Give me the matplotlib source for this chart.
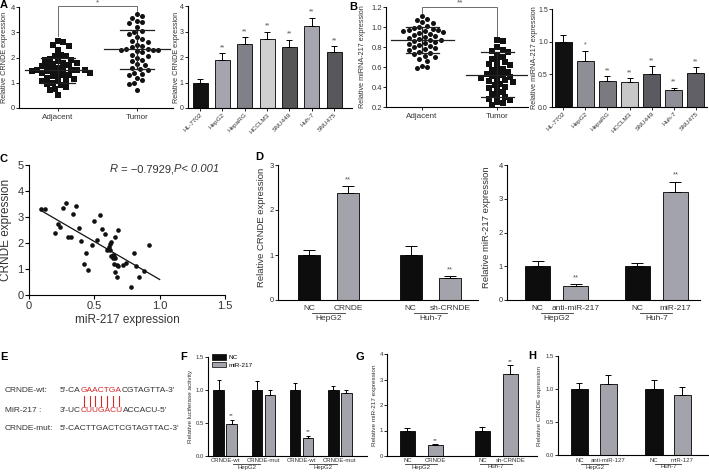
import numpy as np
import matplotlib
matplotlib.use('Agg')
import matplotlib.pyplot as plt
from matplotlib import transforms
from matplotlib.patches import Patch
from matplotlib.lines import Line2D

plt.rcParams['font.family'] = ['Liberation Sans', 'DejaVu Sans']
plt.rcParams['axes.linewidth'] = 0.8

W, H = 709, 472

# ---------------- data ----------------
# A: CRNDE in tissue
a_adjacent = [2.65, 2.6, 2.5, 2.45, 2.3, 2.1, 2.05, 2.05, 1.95, 1.9, 1.9, 1.85, 1.8, 1.8,
              1.75, 1.7, 1.7, 1.65, 1.6, 1.55, 1.5, 1.5, 1.5, 1.5, 1.5, 1.45, 1.45, 1.4,
              1.4, 1.35, 1.3, 1.3, 1.25, 1.2, 1.15, 1.1, 1.1, 1.05, 1.0, 0.95, 0.9, 0.85,
              0.75, 0.7, 0.5]
a_tumor = [3.72, 3.65, 3.55, 3.45, 3.4, 3.35, 3.2, 3.05, 3.0, 2.95, 2.8, 2.75, 2.65, 2.6,
           2.5, 2.45, 2.4, 2.35, 2.35, 2.3, 2.3, 2.3, 2.25, 2.2, 2.1, 2.05, 2.0, 1.9,
           1.85, 1.75, 1.7, 1.6, 1.55, 1.5, 1.4, 1.35, 1.3, 1.2, 1.1, 1.0, 0.95, 0.7]
a_means = [1.5, 2.33]
a_sd_low = [1.0, 1.55]
a_sd_high = [2.0, 3.1]

cell_lines = ['HL-7702', 'HepG2', 'HepaRG', 'HCCLM3', 'SNU449', 'Huh-7', 'SNU475']
a_cell_vals = [1.0, 1.9, 2.5, 2.7, 2.4, 3.2, 2.2]
a_cell_err = [0.13, 0.24, 0.28, 0.29, 0.28, 0.34, 0.23]
a_cell_sig = ['', '**', '**', '**', '**', '**', '**']

# B: miR-217 in tissue
b_adjacent = [1.11, 1.08, 1.07, 1.05, 1.04, 1.01, 1.0, 0.99, 0.98, 0.97, 0.97, 0.96, 0.96,
              0.95, 0.94, 0.93, 0.92, 0.91, 0.9, 0.89, 0.88, 0.87, 0.87, 0.86, 0.85, 0.84,
              0.83, 0.82, 0.81, 0.8, 0.79, 0.78, 0.77, 0.75, 0.74, 0.73, 0.71, 0.7, 0.68,
              0.66, 0.61, 0.6, 0.59]
b_tumor = [0.87, 0.86, 0.8, 0.77, 0.76, 0.75, 0.72, 0.7, 0.68, 0.66, 0.65, 0.63, 0.62, 0.6,
           0.58, 0.57, 0.55, 0.54, 0.53, 0.52, 0.51, 0.5, 0.49, 0.48, 0.47, 0.46, 0.45,
           0.43, 0.42, 0.4, 0.39, 0.37, 0.35, 0.33, 0.31, 0.3, 0.28, 0.27, 0.25, 0.24, 0.22]
b_means = [0.87, 0.52]
b_sd_low = [0.74, 0.3]
b_sd_high = [1.0, 0.75]

b_cell_vals = [1.0, 0.7, 0.4, 0.385, 0.51, 0.26, 0.52]
b_cell_err = [0.1, 0.16, 0.07, 0.055, 0.11, 0.035, 0.09]
b_cell_sig = ['', '*', '**', '**', '**', '**', '**']

# C: correlation
c_mir = [0.095, 0.12, 0.2, 0.22, 0.235, 0.26, 0.28, 0.30, 0.32, 0.34, 0.36, 0.38, 0.40,
         0.42, 0.44, 0.455, 0.48, 0.50, 0.52, 0.54, 0.56, 0.58, 0.60, 0.61, 0.62, 0.63,
         0.64, 0.644, 0.65, 0.657, 0.66, 0.67, 0.66, 0.68, 0.675, 0.68, 0.72, 0.74, 0.78,
         0.80, 0.82, 0.845, 0.88, 0.92, 0.62, 0.63, 0.65]
c_crnde = [3.31, 3.29, 2.37, 2.73, 2.63, 3.36, 3.55, 2.22, 2.22, 3.1, 3.42, 2.56, 2.06,
           1.2, 1.6, 0.96, 1.92, 2.86, 2.12, 3.06, 2.54, 2.33, 1.73, 1.86, 1.96, 2.05,
           1.54, 1.41, 1.19, 0.9, 1.44, 1.15, 2.22, 2.5, 0.7, 1.12, 1.15, 1.24, 0.32,
           1.6, 1.12, 0.7, 0.92, 1.92, 1.73, 1.5, 1.5]
c_fit_range = [0.1, 1.0]

# D
d1_labels = ['NC', 'CRNDE', 'NC', 'sh-CRNDE']
d1_vals = [1.0, 2.37, 1.0, 0.48]
d1_err = [0.11, 0.17, 0.2, 0.06]
d1_sig = ['', '**', '', '**']
d2_labels = ['NC', 'anti-miR-217', 'NC', 'miR-217']
d2_vals = [1.0, 0.41, 1.0, 3.21]
d2_err = [0.15, 0.06, 0.1, 0.3]
d2_sig = ['', '**', '', '**']
d_groups = ['HepG2', 'Huh-7']

# F: luciferase
f_constructs = ['CRNDE-wt', 'CRNDE-mut', 'CRNDE-wt', 'CRNDE-mut']
f_nc = [1.0, 1.0, 1.0, 1.0]
f_nc_err = [0.15, 0.13, 0.1, 0.06]
f_mir = [0.48, 0.92, 0.28, 0.96]
f_mir_err = [0.07, 0.08, 0.03, 0.04]
f_sig = ['**', '', '**', '']
f_groups = ['HepG2', 'HepG2']

# G
g_labels = ['NC', 'CRNDE', 'NC', 'sh-CRNDE']
g_vals = [1.0, 0.43, 1.0, 3.2]
g_err = [0.1, 0.04, 0.15, 0.37]
g_sig = ['', '**', '', '**']

# H
h_labels = ['NC', 'anti-miR-127', 'NC', 'miR-127']
h_vals = [1.0, 1.08, 1.0, 0.91]
h_err = [0.09, 0.13, 0.13, 0.12]

BLACK = '#0d0d0d'
GRAY = '#a3a3ab'
a_colors = ['#111111', '#a5a5b0', '#808088', '#cfcfcf', '#555558', '#a5a5b0', '#58585c']
b_colors = ['#111111', '#8e8e96', '#7a7a80', '#c8c8c8', '#5a5a60', '#8e8e96', '#606066']

fig = plt.figure(figsize=(W / 100, H / 100), dpi=100)
fig.patch.set_facecolor('white')


def box(l, t, r, b, fs):
    ax = fig.add_axes([l / W, 1 - b / H, (r - l) / W, (b - t) / H])
    ax.spines['top'].set_visible(False)
    ax.spines['right'].set_visible(False)
    ax.tick_params(direction='out', length=2, width=0.6, pad=1, labelsize=fs,
                   labelcolor='#333333')
    return ax


def ftext(x, y, s, **kw):
    return fig.text(x / W, 1 - y / H, s, **kw)


def letter(x, y, s):
    ftext(x, y, s, size=8, weight='bold', ha='left', va='top')


def ylab(x, t, b, s, size):
    ftext(x, (t + b) / 2, s, rotation=90, ha='center', va='center', size=size, color='#333333')


def swarm(vals, ypx, dpx):
    placed = []
    offs = np.zeros(len(vals))
    cands = [0.0] + [s * j * dpx * 0.5 for j in range(1, 60) for s in (1, -1)]
    for i in np.argsort(vals)[::-1]:
        y = vals[i] * ypx
        for c in cands:
            if all((c - px) ** 2 + (y - py) ** 2 >= dpx ** 2 for px, py in placed):
                break
        placed.append((c, y))
        offs[i] = c
    return offs


def bars(ax, x, vals, errs, colors, width, cap):
    ax.bar(x, vals, width, color=colors, edgecolor='black', linewidth=0.6, zorder=2)
    ax.errorbar(x, vals, yerr=[np.zeros(len(errs)), errs], fmt='none', ecolor='black',
                elinewidth=0.7, capsize=cap, capthick=0.7, zorder=3)


def stars(ax, x, vals, errs, marks, size, dy=1.5):
    for xi, v, e, m in zip(x, vals, errs, marks):
        if m:
            ax.annotate(m, (xi, v + e), xytext=(0, dy), textcoords='offset points',
                        ha='center', va='bottom', size=size, color='#555555')


def under_labels(ax, x, labels, y_lab, size):
    tr = transforms.blended_transform_factory(ax.transData, fig.transFigure)
    for xi, s in zip(x, labels):
        ax.text(xi, 1 - y_lab / H, s, transform=tr, ha='center', va='center', size=size,
                color='#333333', clip_on=False)


def group_line(ax, x0, x1, y_line, label, y_lab, size):
    tr = transforms.blended_transform_factory(ax.transData, fig.transFigure)
    ax.plot([x0, x1], [1 - y_line / H] * 2, transform=tr, color='#333333', lw=0.6,
            clip_on=False)
    ax.text((x0 + x1) / 2, 1 - y_lab / H, label, transform=tr, ha='center', va='center',
            size=size, color='#333333', clip_on=False)


def rich(x, y, parts, size):
    r = fig.canvas.get_renderer()
    out = []
    for s, c, st in parts:
        t = ftext(x, y, s, color=c, style=st, size=size, ha='left', va='center')
        bb = t.get_window_extent(r)
        out.append(bb)
        x += bb.width
    return out


def dot_panel(ax, groups, means, lo, hi, markers, xscale, yscale, y0):
    for k, (vals, mk) in enumerate(zip(groups, markers)):
        v = np.array(vals)
        offs = swarm(v - y0, yscale, 5.3)
        ax.scatter(k + 1 + offs / xscale, v, s=13, marker=mk, color='#111111',
                   linewidths=0, zorder=3, clip_on=False)
        ax.plot([k + 1 - 0.42, k + 1 + 0.42], [means[k]] * 2, color='#222222', lw=0.9, zorder=4)
        ax.plot([k + 1 - 0.22, k + 1 + 0.22], [lo[k]] * 2, color='#222222', lw=0.9, zorder=4)
        ax.plot([k + 1 - 0.22, k + 1 + 0.22], [hi[k]] * 2, color='#222222', lw=0.9, zorder=4)
        ax.plot([k + 1, k + 1], [lo[k], hi[k]], color='#222222', lw=0.9, zorder=4)


# ---------------- A ----------------
letter(0, 0, 'A')
ax = box(19, 7, 173, 108, 5.5)
dot_panel(ax, [a_adjacent, a_tumor], a_means, a_sd_low, a_sd_high, ['s', 'o'], 79, 25.25, 0)
ax.set_xlim(0.506, 2.456)
ax.set_ylim(0, 4)
ax.set_yticks([0, 1, 2, 3, 4])
ax.set_xticks([1, 2])
ax.set_xticklabels(['Adjacent', 'Tumor'], size=5.8)
ax.tick_params(axis='x', pad=2.5)
ax.plot([1, 1, 2, 2], [2.85, 4.03, 4.03, 3.85], color='#555555', lw=0.6, clip_on=False)
ax.text(1.5, 4.03, '*', ha='center', va='bottom', size=6, color='#555555')
ylab(5, 7, 108, 'Relative CRNDE expression', 5.2)

ax = box(188, 6, 352, 108, 5)
xa = np.arange(len(cell_lines))
bars(ax, xa, a_cell_vals, a_cell_err, a_colors, 0.67, 2)
stars(ax, xa, a_cell_vals, a_cell_err, a_cell_sig, 5)
ax.set_xlim(-0.54, 6.8)
ax.set_ylim(0, 4)
ax.set_yticks([0, 1, 2, 3, 4])
ax.set_xticks(xa)
ax.set_xticklabels(cell_lines, rotation=45, ha='right', size=4.6, rotation_mode='anchor')
ylab(176, 6, 108, 'Relative CRNDE expression', 5.2)

# ---------------- B ----------------
letter(349, 2, 'B')
ax = box(386, 7, 528, 107, 5.5)
dot_panel(ax, [b_adjacent, b_tumor], b_means, b_sd_low, b_sd_high, ['o', 's'], 75, 100, 0.2)
ax.set_xlim(0.52, 2.41)
ax.set_ylim(0.2, 1.2)
ax.set_yticks([0.2, 0.4, 0.6, 0.8, 1.0, 1.2])
ax.set_yticklabels(['0.2', '0.4', '0.6', '0.8', '1.0', '1.2'])
ax.set_xticks([1, 2])
ax.set_xticklabels(['Adjacent', 'Tumor'], size=5.8)
ax.tick_params(axis='x', pad=2.5)
ax.plot([1, 1, 2, 2], [1.14, 1.205, 1.205, 0.9], color='#555555', lw=0.6, clip_on=False)
ax.text(1.5, 1.205, '**', ha='center', va='bottom', size=6, color='#555555')
ylab(362, 7, 107, 'Relative miRNA-217 expression', 5.2)

ax = box(552, 9, 707, 107, 5)
bars(ax, xa, b_cell_vals, b_cell_err, b_colors, 0.77, 2)
stars(ax, xa, b_cell_vals, b_cell_err, b_cell_sig, 5)
ax.set_xlim(-0.5, 6.5)
ax.set_ylim(0, 1.5)
ax.set_yticks([0, 0.5, 1.0, 1.5])
ax.set_yticklabels(['0.0', '0.5', '1.0', '1.5'])
ax.set_xticks(xa)
ax.set_xticklabels(cell_lines, rotation=45, ha='right', size=4.6, rotation_mode='anchor')
ylab(534, 9, 107, 'Relative miRNA-217 expression', 5.2)

# ---------------- C ----------------
letter(0, 154, 'C')
ax = box(29, 165, 225, 295, 8)
ax.tick_params(length=3, width=0.8)
ax.scatter(c_mir, c_crnde, s=11, color='#111111', linewidths=0, zorder=3)
k, b0 = np.polyfit(c_mir, c_crnde, 1)
xf = np.array(c_fit_range)
ax.plot(xf, k * xf + b0, color='#111111', lw=0.9)
ax.set_xlim(0, 1.5)
ax.set_ylim(0, 5)
ax.set_xticks([0, 0.5, 1.0, 1.5])
ax.set_xticklabels(['0', '0.5', '1.0', '1.5'])
ax.set_yticks([0, 1, 2, 3, 4, 5])
ylab(6, 165, 295, 'CRNDE expression', 8.5)
ftext(127, 320, 'miR-217 expression', ha='center', va='center', size=8.5, color='#333333')
rich(110, 169, [('R', '#333333', 'italic'), (' = \u22120.7929,', '#333333', 'normal'),
                ('P< 0.001', '#333333', 'italic')], 8)

# ---------------- D ----------------
letter(255, 152, 'D')
xd = np.array([0, 1, 2.6, 3.6])
ax = box(278, 165, 478, 300, 5.5)
bars(ax, xd, d1_vals, d1_err, [BLACK, GRAY, BLACK, GRAY], 0.56, 4)
stars(ax, xd, d1_vals, d1_err, d1_sig, 5.5, 2)
ax.set_xlim(-0.79, 4.32)
ax.set_ylim(0, 3)
ax.set_yticks([0, 1, 2, 3])
ax.set_xticks([])
under_labels(ax, xd, d1_labels, 308.5, 6)
group_line(ax, 0.08, 0.92, 313, d_groups[0], 318, 6)
group_line(ax, 2.68, 3.52, 313, d_groups[1], 318, 6)
ylab(261, 165, 290, 'Relative CRNDE expression', 6.8)

ax = box(507, 165, 700, 300, 5.5)
bars(ax, xd, d2_vals, d2_err, [BLACK, GRAY, BLACK, GRAY], 0.65, 4)
stars(ax, xd, d2_vals, d2_err, d2_sig, 5.5, 2)
ax.set_xlim(-0.8, 4.24)
ax.set_ylim(0, 4)
ax.set_yticks([0, 1, 2, 3, 4])
ax.set_xticks([])
under_labels(ax, xd, d2_labels, 308.5, 6)
group_line(ax, 0.08, 0.92, 313, d_groups[0], 318, 6)
group_line(ax, 2.68, 3.52, 313, d_groups[1], 318, 6)
ylab(486, 165, 290, 'Relative miR-217 expression', 6.8)

# ---------------- E ----------------
letter(0, 352, 'E')
red = '#d42a2a'
ink = '#333333'
ftext(5, 391, 'CRNDE-wt:', size=6, ha='left', va='center', color=ink)
ftext(5, 410, 'MiR-217 :', size=6, ha='left', va='center', color=ink)
ftext(5, 429, 'CRNDE-mut:', size=6, ha='left', va='center', color=ink)
top = rich(60, 391, [("5'-CA", ink, 'normal'), ('GAACTGA', red, 'normal'),
                     ("CGTAGTTA-3'", ink, 'normal')], 6)
rich(60, 410, [("3'-UC", ink, 'normal'), ('CUUGACU', red, 'normal'),
               ("ACCACU-5'", ink, 'normal')], 6)
rich(60, 429, [("5'-CACTTGACTCGTAGTTAC-3'", ink, 'normal')], 6)
rb = top[1]
for i in range(7):
    xx = rb.x0 + (i + 0.5) * rb.width / 7
    fig.add_artist(Line2D([xx / W, xx / W], [1 - 395.5 / H, 1 - 405.5 / H], color=red, lw=0.8))

# ---------------- F ----------------
letter(180, 352, 'F')
xf4 = np.arange(4)
ax = box(208, 357, 367, 456, 4.3)
bars(ax, xf4 - 0.17, f_nc, f_nc_err, BLACK, 0.28, 1.5)
bars(ax, xf4 + 0.17, f_mir, f_mir_err, GRAY, 0.28, 1.5)
stars(ax, xf4 + 0.17, f_mir, f_mir_err, f_sig, 4.5, 1)
ax.set_xlim(-0.45, 3.71)
ax.set_ylim(0, 1.5)
ax.set_yticks([0, 0.5, 1.0, 1.5])
ax.set_yticklabels(['0.0', '0.5', '1.0', '1.5'])
ax.set_xticks([])
under_labels(ax, xf4, f_constructs, 460.5, 4.3)
group_line(ax, 0.2, 0.92, 463.5, f_groups[0], 467, 4.3)
group_line(ax, 2.2, 2.92, 463.5, f_groups[1], 467, 4.3)
ax.legend([Patch(facecolor=BLACK, edgecolor='black', lw=0.5),
           Patch(facecolor=GRAY, edgecolor='black', lw=0.5)], ['NC', 'miR-217'],
          loc='upper left', bbox_to_anchor=(4 / 159, 1.03), frameon=False, fontsize=4.6,
          handlelength=2.2, handleheight=1.0, borderaxespad=0, labelspacing=0.25,
          handletextpad=0.4, borderpad=0)
ylab(190, 357, 456, 'Relative luciferase activity', 4.6)

# ---------------- G ----------------
letter(355, 352, 'G')
xg = np.array([0, 1, 2.68, 3.68])
ax = box(387, 354, 537, 456, 4.3)
bars(ax, xg, g_vals, g_err, [BLACK, GRAY, BLACK, GRAY], 0.54, 2)
stars(ax, xg, g_vals, g_err, g_sig, 4.5, 1)
ax.set_xlim(-0.73, 4.63)
ax.set_ylim(0, 4)
ax.set_yticks([0, 1, 2, 3, 4])
ax.set_xticks([])
under_labels(ax, xg, g_labels, 460.5, 4.3)
group_line(ax, -0.1, 1.05, 463.5, d_groups[0], 467, 4.3)
group_line(ax, 2.58, 3.73, 463.5, d_groups[1], 467, 4.3)
ylab(375, 354, 456, 'Relative miR-217 expression', 4.6)

# ---------------- H ----------------
letter(528, 351, 'H')
xh = np.array([0, 1, 2.57, 3.55])
ax = box(558, 356, 708, 455, 4.3)
bars(ax, xh, h_vals, h_err, [BLACK, GRAY, BLACK, GRAY], 0.6, 2)
ax.set_xlim(-0.74, 4.43)
ax.set_ylim(0, 1.5)
ax.set_yticks([0, 0.5, 1.0, 1.5])
ax.set_yticklabels(['0.0', '0.5', '1.0', '1.5'])
ax.set_xticks([])
under_labels(ax, xh, h_labels, 460.5, 4.3)
group_line(ax, 0.05, 1.0, 463.5, d_groups[0], 467, 4.3)
group_line(ax, 2.62, 3.5, 463.5, d_groups[1], 467, 4.3)
ylab(540, 356, 455, 'Relative CRNDE expression', 4.6)

fig.savefig('out.png', dpi=100)
